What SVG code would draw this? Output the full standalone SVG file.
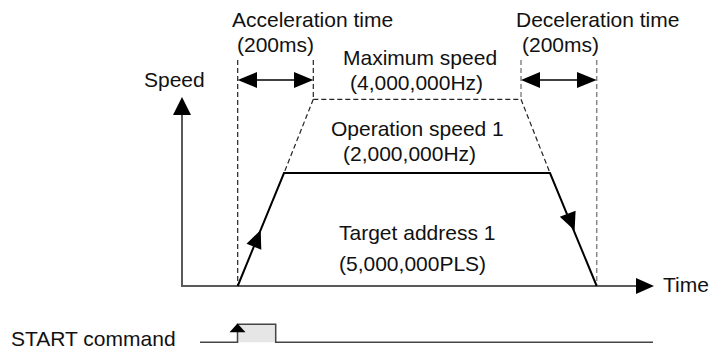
<svg xmlns="http://www.w3.org/2000/svg" width="710" height="352" viewBox="0 0 710 352">
  <style>
    text { font-family: "Liberation Sans", Arial, sans-serif; font-size: 21px; fill: #111; }
    .axis { stroke: #5a5a5a; stroke-width: 2; fill: none; }
    .prof { stroke: #000; stroke-width: 2; fill: none; }
    .dash { stroke: #222; stroke-width: 1.2; stroke-dasharray: 5 3; fill: none; }
    .dashg { stroke: #888; stroke-width: 1.5; stroke-dasharray: 5 3; fill: none; }
    .dim { stroke: #000; stroke-width: 1.5; fill: none; }
    .head { fill: #000; stroke: none; }
  </style>
  <rect width="710" height="352" fill="#fff"/>

  <g id="labels">
    <text x="144" y="87">Speed</text>
    <text x="663" y="292">Time</text>
    <text x="232" y="27">Acceleration time</text>
    <text x="237" y="52">(200ms)</text>
    <text x="516" y="27">Deceleration time</text>
    <text x="522" y="52">(200ms)</text>
    <text x="343" y="65">Maximum speed</text>
    <text x="350" y="90">(4,000,000Hz)</text>
    <text x="331" y="136">Operation speed 1</text>
    <text x="343" y="161">(2,000,000Hz)</text>
    <text x="339" y="240">Target address 1</text>
    <text x="339" y="271">(5,000,000PLS)</text>
    <text x="11" y="346">START command</text>
  </g>

  <g id="axes">
    <polyline class="axis" points="182,115 182,286 638,286"/>
    <polygon class="head" points="182,97 173,115 191,115"/>
    <polygon class="head" points="654,286 636,278 636,294"/>
  </g>

  <g id="guides">
    <line class="dash" x1="237.7" y1="60" x2="237.7" y2="286"/>
    <line class="dash" x1="313.3" y1="60" x2="313.3" y2="99.3"/>
    <line class="dashg" x1="521" y1="60" x2="521" y2="99.3"/>
    <line class="dashg" x1="596.7" y1="60" x2="596.7" y2="286"/>
    <line class="dash" x1="313.3" y1="99.3" x2="521" y2="99.3"/>
    <line class="dash" x1="313.3" y1="99.3" x2="284" y2="173"/>
    <line class="dash" x1="521" y1="99.3" x2="550" y2="173"/>
  </g>

  <g id="time-dimensions">
    <line class="dim" x1="250" y1="80" x2="300" y2="80"/>
    <polygon class="head" points="237.7,80 257,72 257,88"/>
    <polygon class="head" points="313.3,80 294,72 294,88"/>
    <line class="dim" x1="533" y1="80" x2="584" y2="80"/>
    <polygon class="head" points="521,80 540,72 540,88"/>
    <polygon class="head" points="596.7,80 577,72 577,88"/>
  </g>

  <g id="profile">
    <polyline class="prof" points="237.7,286 284,173 550,173 596.7,286"/>
    <polygon class="head" points="260.7,230 246.5,243.7 261.3,249.7"/>
    <polygon class="head" points="574.6,230.4 559.8,216.8 575.6,210.8"/>
  </g>

  <g id="start-signal">
    <rect x="237.5" y="324.3" width="38.2" height="18" fill="#e6e6e6" stroke="none"/>
    <polyline points="200,342.3 237.5,342.3 237.5,324.3 275.7,324.3 275.7,342.3 653,342.3" fill="none" stroke="#444" stroke-width="1.5"/>
    <polygon class="head" points="237.5,323.5 229.5,332.3 245.5,332.3"/>
  </g>
</svg>
